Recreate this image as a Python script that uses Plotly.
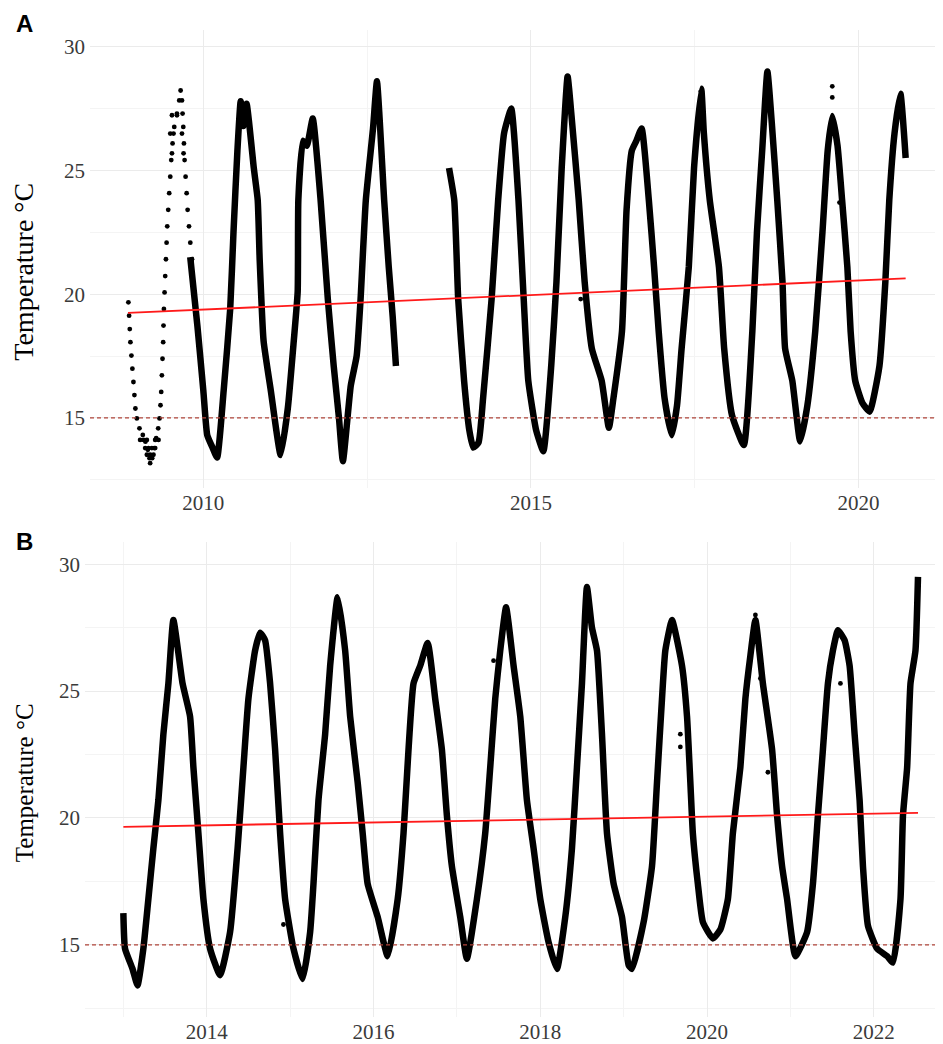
import plotly.graph_objects as go

# ---------------- Panel A data (decimal year, temperature °C) ----------------
A_dots_year = [2008.856, 2008.867, 2008.877, 2008.887, 2008.902, 2008.917, 2008.933, 2008.948,
               2008.963, 2008.985, 2009.025, 2009.076, 2009.116, 2009.153, 2009.178, 2009.188,
               2009.219, 2009.250, 2009.280, 2009.311, 2009.331, 2009.346, 2009.357, 2009.367,
               2009.377, 2009.387, 2009.392, 2009.398, 2009.408, 2009.418, 2009.429, 2009.439,
               2009.449, 2009.464, 2009.479, 2009.495, 2009.510, 2009.530, 2009.556, 2009.597,
               2009.632, 2009.653, 2009.674, 2009.683, 2009.694, 2009.704, 2009.714, 2009.729,
               2009.745, 2009.760, 2009.781, 2009.801, 2009.827,
               2009.035, 2009.086, 2009.138, 2009.265, 2009.316, 2009.112, 2009.163, 2009.214,
               2009.265, 2009.138, 2009.188, 2009.239, 2009.521, 2009.597, 2009.495, 2009.545,
               2009.674, 2009.521, 2009.698]
A_dots_temp = [19.67, 19.13, 18.59, 18.06, 17.52, 16.99, 16.45, 15.92,
               15.38, 14.98, 14.58, 14.31, 14.04, 13.71, 13.37, 13.17,
               13.37, 13.78, 14.18, 14.58, 14.98, 15.51, 16.05, 16.72,
               17.39, 18.06, 18.73, 19.40, 20.07, 20.73, 21.41, 22.08,
               22.74, 23.41, 24.08, 24.75, 25.42, 26.09, 26.76, 27.30,
               27.83, 28.23, 27.83, 27.30, 26.76, 26.09, 25.42, 24.75,
               24.08, 23.41, 22.74, 22.08, 21.41,
               14.11, 14.11, 14.11, 14.11, 14.11, 13.78, 13.78, 13.78,
               13.78, 13.51, 13.51, 13.51, 27.23, 27.23, 26.49, 26.49,
               26.49, 25.69, 25.69]

A_seg1_year = [2009.80, 2009.91, 2010.00, 2010.06, 2010.14, 2010.21, 2010.31, 2010.41, 2010.46,
               2010.52, 2010.57, 2010.61, 2010.66, 2010.77, 2010.83, 2010.86, 2010.92, 2011.03,
               2011.18, 2011.29, 2011.38, 2011.44, 2011.45, 2011.52, 2011.58, 2011.67, 2011.79,
               2011.90, 2011.99, 2012.07, 2012.13, 2012.25, 2012.34, 2012.40, 2012.48, 2012.59,
               2012.65, 2012.76, 2012.83, 2012.89, 2012.94]
A_seg1_temp = [21.5, 18.7, 16.1, 14.3, 13.8, 13.4, 16.1, 19.4, 22.5,
               25.8, 27.8, 26.8, 27.7, 25.1, 23.8, 21.4, 18.1, 16.1,
               13.5, 15.4, 18.1, 20.1, 23.8, 26.2, 26.0, 27.1, 23.8,
               19.8, 17.1, 15.0, 13.25, 16.3, 17.5, 19.8, 23.8, 26.7,
               28.6, 23.8, 21.1, 19.1, 17.1]

A_seg2_year = [2013.75, 2013.83, 2013.89, 2013.98, 2014.06, 2014.12, 2014.20, 2014.27, 2014.40,
               2014.50, 2014.59, 2014.70, 2014.81, 2014.89, 2014.96, 2015.08, 2015.19, 2015.31,
               2015.39, 2015.47, 2015.56, 2015.62, 2015.73, 2015.82, 2015.93, 2016.08, 2016.19,
               2016.26, 2016.39, 2016.46, 2016.54, 2016.61, 2016.69, 2016.80, 2016.88, 2016.95,
               2017.04, 2017.15, 2017.23, 2017.30, 2017.41, 2017.49, 2017.60, 2017.64, 2017.73,
               2017.87, 2017.95, 2018.07, 2018.25, 2018.38, 2018.45, 2018.53, 2018.61, 2018.68,
               2018.76, 2018.84, 2018.88, 2018.99, 2019.11, 2019.22, 2019.34, 2019.45, 2019.53,
               2019.60, 2019.68, 2019.75, 2019.83, 2019.88, 2019.95, 2020.06, 2020.17, 2020.32,
               2020.41, 2020.47, 2020.55, 2020.64, 2020.72]
A_seg2_temp = [25.1, 23.8, 19.8, 16.5, 14.5, 13.8, 14.0, 15.8, 19.8,
               23.8, 26.5, 27.5, 23.8, 19.8, 16.5, 14.5, 13.65, 17.1,
               20.5, 25.1, 28.8, 27.2, 23.8, 20.5, 17.8, 16.5, 14.6,
               15.8, 18.5, 23.4, 25.8, 26.2, 26.7, 23.8, 21.1, 18.5,
               15.8, 14.3, 15.5, 17.8, 21.1, 25.1, 28.3, 26.5, 23.8,
               21.1, 17.8, 15.1, 13.9, 18.5, 22.5, 25.8, 29.0, 26.8,
               23.8, 20.5, 17.8, 16.5, 14.05, 15.5, 18.5, 22.5, 25.8,
               27.2, 26.0, 23.8, 21.1, 18.5, 16.5, 15.6, 15.25, 17.1,
               20.5, 23.8, 26.5, 28.1, 25.5]

A_out_year = [2015.76, 2019.60, 2019.60, 2019.71]
A_out_temp = [19.8, 28.4, 27.95, 23.7]

A_trend_year = [2008.85, 2020.72]
A_trend_temp = [19.24, 20.64]

# ---------------- Panel B data ----------------
B_year = [2013.00, 2013.02, 2013.11, 2013.17, 2013.24, 2013.30, 2013.36, 2013.42, 2013.48,
          2013.54, 2013.60, 2013.71, 2013.80, 2013.84, 2013.90, 2013.96, 2014.04, 2014.16,
          2014.28, 2014.37, 2014.44, 2014.50, 2014.58, 2014.64, 2014.70, 2014.76, 2014.82,
          2014.88, 2014.94, 2015.04, 2015.15, 2015.24, 2015.28, 2015.34, 2015.42, 2015.48,
          2015.57, 2015.66, 2015.72, 2015.81, 2015.87, 2015.93, 2016.05, 2016.17, 2016.29,
          2016.36, 2016.42, 2016.48, 2016.56, 2016.65, 2016.74, 2016.82, 2016.88, 2016.94,
          2017.04, 2017.12, 2017.24, 2017.34, 2017.40, 2017.46, 2017.52, 2017.59, 2017.68,
          2017.76, 2017.84, 2017.92, 2018.00, 2018.10, 2018.20, 2018.30, 2018.38, 2018.44,
          2018.50, 2018.56, 2018.62, 2018.68, 2018.74, 2018.80, 2018.88, 2018.98, 2019.06,
          2019.10, 2019.24, 2019.34, 2019.40, 2019.46, 2019.50, 2019.58, 2019.70, 2019.76,
          2019.80, 2019.83, 2019.89, 2019.95, 2020.07, 2020.16, 2020.25, 2020.31, 2020.40,
          2020.46, 2020.52, 2020.58, 2020.67, 2020.78, 2020.84, 2020.90, 2020.96, 2021.06,
          2021.20, 2021.27, 2021.33, 2021.39, 2021.45, 2021.51, 2021.57, 2021.65, 2021.71,
          2021.77, 2021.83, 2021.87, 2021.93, 2022.04, 2022.16, 2022.23, 2022.32, 2022.35,
          2022.40, 2022.44, 2022.50, 2022.53]
B_temp = [16.25, 14.85, 14.05, 13.4, 14.85, 16.8, 18.8, 20.7, 23.3,
          25.3, 27.8, 25.3, 24.0, 22.0, 19.4, 16.8, 14.85, 13.8,
          15.5, 18.8, 22.0, 24.7, 26.6, 27.3, 27.0, 25.3, 22.7,
          19.4, 16.8, 14.85, 13.65, 15.5, 17.4, 20.7, 23.3, 26.0,
          28.7, 26.6, 24.0, 21.4, 19.4, 17.4, 16.1, 14.55, 16.8,
          19.4, 22.7, 25.3, 26.0, 26.9, 24.7, 22.7, 20.1, 18.1,
          16.1, 14.45, 16.8, 19.4, 22.0, 24.7, 26.6, 28.3, 26.0,
          24.0, 20.7, 18.8, 16.8, 15.1, 14.05, 16.1, 18.8, 22.0,
          25.3, 29.1, 27.5, 26.6, 23.3, 19.4, 17.4, 16.1, 14.2,
          14.05, 15.9, 18.1, 21.4, 24.7, 26.6, 27.8, 26.0, 24.0,
          21.4, 19.4, 17.4, 15.9, 15.25, 15.6, 16.8, 19.4, 22.0,
          24.7, 26.4, 27.8, 25.3, 22.7, 20.1, 18.1, 16.8, 14.55,
          15.5, 17.4, 20.1, 22.7, 25.3, 26.6, 27.4, 27.0, 26.0,
          23.3, 20.7, 18.1, 15.75, 14.85, 14.55, 14.3, 16.8, 20.1,
          22.0, 25.3, 26.6, 29.5]

B_out_year = [2014.92, 2017.44, 2019.68, 2019.68, 2020.58, 2020.64, 2020.73, 2021.60]
B_out_temp = [15.8, 26.2, 23.3, 22.8, 28.0, 25.5, 21.8, 25.3]

B_trend_year = [2013.00, 2022.53]
B_trend_temp = [19.65, 20.20]

# tick labels
A_ticks = [2010, 2015, 2020]
B_ticks = [2014, 2016, 2018, 2020, 2022]
Y_ticks = [15, 20, 25, 30]

# ---------------- figure ----------------
BAND = 6.5
fig = go.Figure()

def add_panel(xa, ya, segs, dots, outs, trend):
    for sx, sy in segs:
        fig.add_trace(go.Scatter(x=sx, y=sy, mode="lines", xaxis=xa, yaxis=ya,
                                 line=dict(color="black", width=BAND, shape="spline",
                                           smoothing=0.45),
                                 showlegend=False, hoverinfo="skip"))
    if dots is not None:
        fig.add_trace(go.Scatter(x=dots[0], y=dots[1], mode="markers", xaxis=xa, yaxis=ya,
                                 marker=dict(color="black", size=4.8), showlegend=False,
                                 hoverinfo="skip"))
    fig.add_trace(go.Scatter(x=outs[0], y=outs[1], mode="markers", xaxis=xa, yaxis=ya,
                             marker=dict(color="black", size=4.8), showlegend=False,
                             hoverinfo="skip"))
    fig.add_trace(go.Scatter(x=trend[0], y=trend[1], mode="lines", xaxis=xa, yaxis=ya,
                             line=dict(color="#ff1a1a", width=1.8), showlegend=False,
                             hoverinfo="skip"))

add_panel("x", "y", [(A_seg1_year, A_seg1_temp), (A_seg2_year, A_seg2_temp)],
          (A_dots_year, A_dots_temp), (A_out_year, A_out_temp), (A_trend_year, A_trend_temp))
add_panel("x2", "y2", [(B_year, B_temp)], None, (B_out_year, B_out_temp),
          (B_trend_year, B_trend_temp))

# 15 °C reference lines
for yref in ["y", "y2"]:
    xref = "x domain" if yref == "y" else "x2 domain"
    fig.add_shape(type="line", xref=xref, yref=yref, x0=0, x1=1, y0=15, y1=15,
                  line=dict(color="#b0443a", width=1.2, dash="4px,3px"), layer="above")

# page body has an 8px default margin: lay out in window pixels minus that offset
OFF = 8
W, H = 943 - OFF, 1044 - OFF

def px_x(p):
    return (p - OFF) / W

def px_y(p):
    return 1 - (p - OFF) / H

tickfont = dict(family="Liberation Serif, Times New Roman, serif", size=21, color="#3a3a3a")
grid_major = "#ebebeb"
grid_minor = "#f4f4f4"

def xaxis(domain, rng, ticks, minor_vals, anchor):
    return dict(domain=domain, range=rng, tickvals=ticks, ticktext=[str(t) for t in ticks],
                showgrid=True, gridcolor=grid_major, gridwidth=1.1, zeroline=False,
                showline=False, ticks="", tickfont=tickfont, anchor=anchor,
                minor=dict(tickvals=minor_vals, showgrid=True, gridcolor=grid_minor, gridwidth=1),
                ticklabelstandoff=0)

def yaxis(domain, rng, anchor):
    return dict(domain=domain, range=rng, tickvals=Y_ticks, ticktext=[str(t) for t in Y_ticks],
                showgrid=True, gridcolor=grid_major, gridwidth=1.1, zeroline=False,
                showline=False, ticks="", tickfont=tickfont, anchor=anchor,
                minor=dict(tickvals=[12.5, 17.5, 22.5, 27.5], showgrid=True,
                           gridcolor=grid_minor, gridwidth=1),
                ticklabelstandoff=4)

fig.update_layout(
    width=W, height=H,
    margin=dict(l=0, r=0, t=0, b=0),
    paper_bgcolor="white", plot_bgcolor="white",
    xaxis=xaxis([px_x(90), 1.0], [2008.27, 2021.29], A_ticks, [2012.5, 2017.5], "y"),
    yaxis=yaxis([px_y(490), px_y(30)], [12.18, 30.68], "x"),
    xaxis2=xaxis([px_x(85), 1.0], [2012.54, 2022.83], B_ticks,
                 [2013, 2015, 2017, 2019, 2021], "y2"),
    yaxis2=yaxis([px_y(1022), px_y(545)], [12.15, 30.86], "x2"),
)

title_font_a = dict(family="Liberation Serif, Times New Roman, serif", size=28, color="black")
title_font_b = dict(family="Liberation Serif, Times New Roman, serif", size=25, color="black")
fig.add_annotation(text="Temperature °C", xref="paper", yref="paper", x=px_x(24),
                   y=px_y(273), textangle=-90, showarrow=False, font=title_font_a,
                   xanchor="center", yanchor="middle")
fig.add_annotation(text="Temperature °C", xref="paper", yref="paper", x=px_x(24),
                   y=px_y(787), textangle=-90, showarrow=False, font=title_font_b,
                   xanchor="center", yanchor="middle")

lab_font = dict(family="Liberation Sans, Arial, sans-serif", size=24, color="black")
fig.add_annotation(text="<b>A</b>", xref="paper", yref="paper", x=px_x(14), y=px_y(24),
                   showarrow=False, font=lab_font, xanchor="left", yanchor="middle")
fig.add_annotation(text="<b>B</b>", xref="paper", yref="paper", x=px_x(14), y=px_y(544),
                   showarrow=False, font=lab_font, xanchor="left", yanchor="middle")

fig.write_html("out.html")
